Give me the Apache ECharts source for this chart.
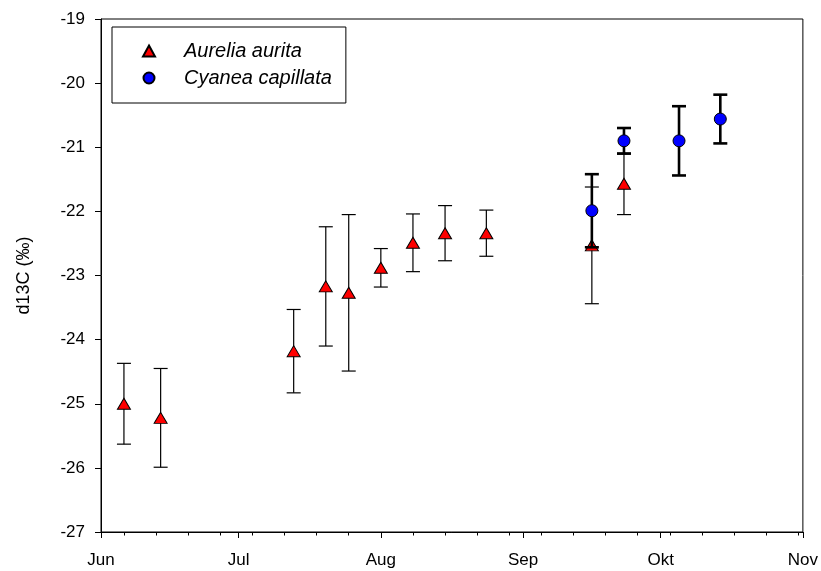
<!DOCTYPE html>
<html><head><meta charset="utf-8">
<script src="https://cdn.jsdelivr.net/npm/echarts@6/dist/echarts.min.js"></script>
<style>html,body{margin:0;padding:0;background:#fff}#c{width:821px;height:571px}</style>
</head><body><div id="c"></div>
<script>
// ---- data ----
const monthNames = {'06':'Jun','07':'Jul','08':'Aug','09':'Sep','10':'Okt','11':'Nov'};
const monthDays = [['06',30],['07',31],['08',31],['09',30],['10',31]];
const yMin = -27, yMax = -19, yStep = 1;

const aureliaDates = ['06-06','06-14','07-13','07-20','07-25','08-01','08-08','08-15','08-24','09-16','09-23'];
const aureliaMean  = [-25.00,-25.22,-24.18,-23.17,-23.27,-22.88,-22.49,-22.34,-22.34,-22.53,-21.57];
const aureliaErr   = [0.63,0.77,0.65,0.93,1.22,0.30,0.45,0.43,0.36,0.91,0.48];

const cyaneaDates = ['09-16','09-23','10-05','10-14'];
const cyaneaMean  = [-21.99,-20.90,-20.90,-20.56];
const cyaneaErr   = [0.57,0.20,0.54,0.38];

// ---- day categories (Jun 1 .. Nov 1) ----
const days = [];
monthDays.forEach(([m,n]) => { for (let d=1; d<=n; d++) days.push(m + '-' + String(d).padStart(2,'0')); });
days.push('11-01');

const isMonthStart = (i, v) => String(v).slice(3) === '01';
const isWeekTick = (i) => i >= 5 && (i - 5) % 7 === 0;

const FONT = 'Liberation Sans';

function errRender(lw) {
  return function (params, api) {
    const x = api.value(0), lo = api.value(1), hi = api.value(2);
    const p1 = api.coord([x, hi]), p2 = api.coord([x, lo]);
    const cap = 7;
    const style = {stroke: '#000', lineWidth: lw, fill: null};
    return {type: 'group', children: [
      {type: 'line', shape: {x1: p1[0], y1: p1[1], x2: p2[0], y2: p2[1]}, style: style},
      {type: 'line', shape: {x1: p1[0]-cap, y1: p1[1], x2: p1[0]+cap, y2: p1[1]}, style: style},
      {type: 'line', shape: {x1: p2[0]-cap, y1: p2[1], x2: p2[0]+cap, y2: p2[1]}, style: style}
    ]};
  };
}

const chart = echarts.init(document.getElementById('c'), null, {renderer: 'canvas'});
chart.setOption({
  animation: false,
  backgroundColor: '#fff',
  grid: {left: 101, top: 19, right: 14, bottom: 39, show: true, borderColor: '#000', borderWidth: 1, containLabel: false},
  legend: {
    orient: 'vertical', left: 112, top: 27,
    padding: [14, 14, 15, 30],
    itemWidth: 12, itemHeight: 11, itemGap: 7,
    borderColor: '#000', borderWidth: 1,
    selectedMode: false,
    textStyle: {fontFamily: FONT, fontSize: 20, fontStyle: 'italic', color: '#000', padding: [0, 0, 0, 24]},
    data: [{name: 'Aurelia aurita', icon: 'triangle'}, {name: 'Cyanea capillata', icon: 'circle'}]
  },
  xAxis: [{
    type: 'category', data: days, boundaryGap: false, position: 'bottom',
    axisLine: {lineStyle: {color: '#000', width: 1}},
    axisTick: {show: true, inside: false, length: 6, interval: isMonthStart, lineStyle: {color: '#000'}},
    axisLabel: {interval: isMonthStart, formatter: v => monthNames[v.slice(0,2)], margin: 20,
      fontFamily: FONT, fontSize: 17, color: '#000'},
    splitLine: {show: false}
  }, {
    type: 'category', data: days, boundaryGap: false, position: 'bottom',
    axisLine: {show: false},
    axisTick: {show: true, length: 3.5, interval: isWeekTick, lineStyle: {color: '#000'}},
    axisLabel: {show: false},
    splitLine: {show: false}
  }],
  yAxis: {
    type: 'value', min: yMin, max: yMax, interval: yStep,
    name: 'd13C (‰)', nameLocation: 'middle', nameGap: 68, nameRotate: 90,
    nameTextStyle: {fontFamily: FONT, fontSize: 18, color: '#000'},
    axisLine: {show: true, lineStyle: {color: '#000', width: 1}},
    axisTick: {show: true, length: 6, lineStyle: {color: '#000'}},
    axisLabel: {fontFamily: FONT, fontSize: 17, color: '#000', margin: 16},
    splitLine: {show: false}
  },
  series: [
    {
      name: 'Aurelia aurita err', type: 'custom', z: 2, xAxisIndex: 0,
      renderItem: errRender(1.2),
      data: aureliaDates.map((d,i) => [d, aureliaMean[i]-aureliaErr[i], aureliaMean[i]+aureliaErr[i]]),
      encode: {x: 0, y: [1,2]}, silent: true
    },
    {
      name: 'Aurelia aurita', type: 'scatter', z: 3, xAxisIndex: 0,
      symbol: 'triangle', symbolSize: [13, 11],
      itemStyle: {color: '#ff0000', borderColor: '#000', borderWidth: 1, opacity: 1},
      data: aureliaDates.map((d,i) => [d, aureliaMean[i]])
    },
    {
      name: 'Cyanea capillata err', type: 'custom', z: 4, xAxisIndex: 0,
      renderItem: errRender(2.6),
      data: cyaneaDates.map((d,i) => [d, cyaneaMean[i]-cyaneaErr[i], cyaneaMean[i]+cyaneaErr[i]]),
      encode: {x: 0, y: [1,2]}, silent: true
    },
    {
      name: 'Cyanea capillata', type: 'scatter', z: 5, xAxisIndex: 0,
      symbol: 'circle', symbolSize: 12,
      itemStyle: {color: '#0000ff', borderColor: '#000', borderWidth: 1, opacity: 1},
      data: cyaneaDates.map((d,i) => [d, cyaneaMean[i]])
    }
  ]
});
</script>
</body></html>
